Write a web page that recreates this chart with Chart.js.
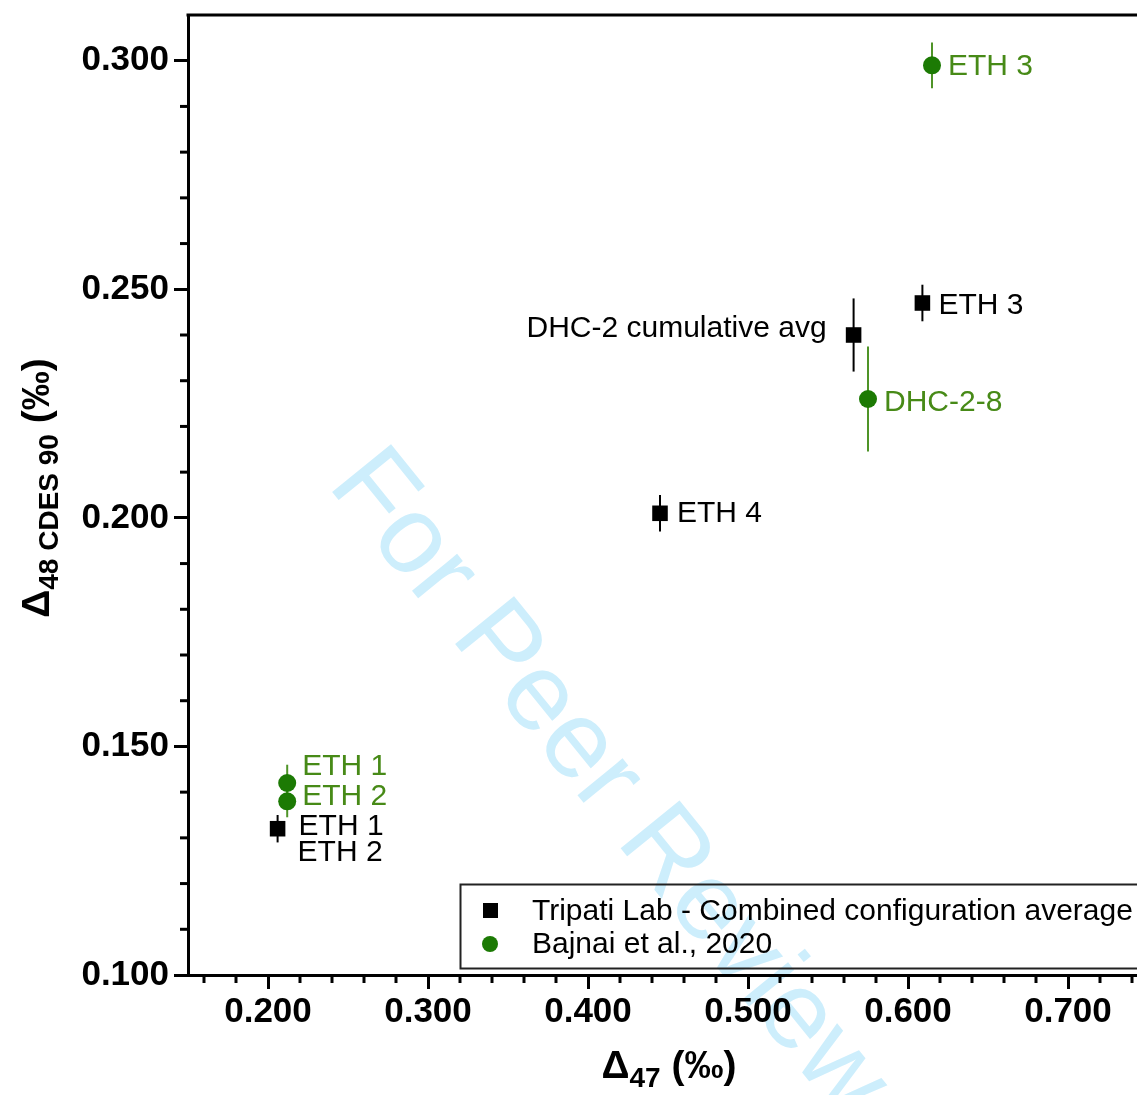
<!DOCTYPE html>
<html>
<head>
<meta charset="utf-8">
<script src="https://cdn.jsdelivr.net/npm/chart.js@4.4.0/dist/chart.umd.min.js"></script>
<style>
  html, body { margin: 0; padding: 0; background: #fff; overflow: hidden; }
  #wrap { width: 1137px; height: 1095px; overflow: hidden; }
  canvas { display: block; }
</style>
</head>
<body>
<div id="wrap"><canvas id="chart" width="1160" height="1095"></canvas></div>
<script>
// Tripati Lab - Combined configuration average
const tripatiX = [0.206, 0.445, 0.566, 0.609];
const tripatiY = [0.132, 0.201, 0.240, 0.247];
const tripatiErr = [0.003, 0.004, 0.008, 0.004];
const tripatiNames = ['ETH 1\nETH 2', 'ETH 4', 'DHC-2 cumulative avg', 'ETH 3'];

// Bajnai et al., 2020
const bajnaiX = [0.212, 0.212, 0.575, 0.615];
const bajnaiY = [0.142, 0.138, 0.226, 0.299];
const bajnaiErr = [0.004, 0.0035, 0.0115, 0.005];
const bajnaiNames = ['ETH 1', 'ETH 2', 'DHC-2-8', 'ETH 3'];

// axes
const xTickValues = [0.2, 0.3, 0.4, 0.5, 0.6, 0.7];
const xTickLabels = ['0.200', '0.300', '0.400', '0.500', '0.600', '0.700'];
const yTickValues = [0.1, 0.15, 0.2, 0.25, 0.3];
const yTickLabels = ['0.100', '0.150', '0.200', '0.250', '0.300'];
const xMinorTicks = [0.16, 0.18, 0.22, 0.24, 0.26, 0.28, 0.32, 0.34, 0.36, 0.38, 0.42, 0.44, 0.46, 0.48,
                     0.52, 0.54, 0.56, 0.58, 0.62, 0.64, 0.66, 0.68, 0.72, 0.74];
const yMinorTicks = [0.11, 0.12, 0.13, 0.14, 0.16, 0.17, 0.18, 0.19, 0.21, 0.22, 0.23, 0.24,
                     0.26, 0.27, 0.28, 0.29];

const FONT = '"Liberation Sans", Arial, Helvetica, sans-serif';
const GREEN_DOT = '#1c7a04';
const GREEN_TEXT = '#478a17';
const GREEN_BAR = '#4f9428';

// where each point label sits, relative to its marker (pixels)
const labelSpots = [
    [[{ dx: 21, dy: -2 }, { dx: 20, dy: 24 }], [{ dx: 17, dy: 0 }], [{ dx: -27, dy: -6, align: 'right' }], [{ dx: 16, dy: 3 }]],
    [[{ dx: 15, dy: -16 }], [{ dx: 15, dy: -5 }], [{ dx: 16, dy: 4 }], [{ dx: 16, dy: 1 }]]
];

function drawParts(ctx, parts) {
    let w = 0;
    parts.forEach(p => {
        ctx.font = `bold ${p.size}px ${FONT}`;
        p.w = ctx.measureText(p.t).width;
        w += p.w;
    });
    let x = -w / 2;
    parts.forEach(p => {
        ctx.font = `bold ${p.size}px ${FONT}`;
        ctx.fillText(p.t, x, p.dy);
        x += p.w;
    });
}

const decorPlugin = {
    id: 'decor',
    beforeDraw(chart) {
        // watermark
        const ctx = chart.ctx;
        ctx.save();
        ctx.translate(350, 466);
        ctx.rotate(0.89);
        ctx.font = `110px ${FONT}`;
        ctx.fillStyle = '#cdeefc';
        ctx.textBaseline = 'middle';
        ctx.fillText('For Peer Review', 0, 0);
        ctx.restore();
    },
    beforeDatasetsDraw(chart) {
        // vertical error bars
        const ctx = chart.ctx;
        const xs = chart.scales.x, ys = chart.scales.y;
        ctx.save();
        chart.data.datasets.forEach(ds => {
            ctx.strokeStyle = ds.errColor;
            ctx.lineWidth = 2;
            ds.data.forEach((p, i) => {
                const px = xs.getPixelForValue(p.x);
                ctx.beginPath();
                ctx.moveTo(px, ys.getPixelForValue(p.y + ds.yErr[i]));
                ctx.lineTo(px, ys.getPixelForValue(p.y - ds.yErr[i]));
                ctx.stroke();
            });
        });
        ctx.restore();
    },
    afterDatasetsDraw(chart) {
        const ctx = chart.ctx;
        const xs = chart.scales.x, ys = chart.scales.y;
        ctx.save();
        ctx.font = `30px ${FONT}`;
        ctx.textBaseline = 'middle';
        chart.data.datasets.forEach((ds, d) => {
            ctx.fillStyle = ds.labelColor;
            ds.data.forEach((p, i) => {
                const px = xs.getPixelForValue(p.x), py = ys.getPixelForValue(p.y);
                ds.names[i].split('\n').forEach((line, k) => {
                    const s = labelSpots[d][i][k];
                    ctx.textAlign = s.align || 'left';
                    ctx.fillText(line, px + s.dx, py + s.dy);
                });
            });
        });
        ctx.restore();
    },
    afterDraw(chart) {
        const ctx = chart.ctx;
        const a = chart.chartArea;
        const xs = chart.scales.x, ys = chart.scales.y;
        ctx.save();
        ctx.strokeStyle = '#000';
        ctx.lineWidth = 3;
        // top frame line
        ctx.beginPath();
        ctx.moveTo(a.left - 1.5, a.top);
        ctx.lineTo(chart.width, a.top);
        ctx.stroke();
        // minor ticks
        xMinorTicks.forEach(v => {
            const px = xs.getPixelForValue(v);
            ctx.beginPath();
            ctx.moveTo(px, a.bottom);
            ctx.lineTo(px, a.bottom + 8);
            ctx.stroke();
        });
        yMinorTicks.forEach(v => {
            const py = ys.getPixelForValue(v);
            ctx.beginPath();
            ctx.moveTo(a.left, py);
            ctx.lineTo(a.left - 8, py);
            ctx.stroke();
        });

        // legend box
        const lx = a.left + 272, ly = a.bottom - 91;
        ctx.lineWidth = 2;
        ctx.strokeStyle = '#222';
        ctx.strokeRect(lx + 0.5, ly + 0.5, 720, 84);
        ctx.font = `30px ${FONT}`;
        ctx.textBaseline = 'middle';
        ctx.textAlign = 'left';
        chart.data.datasets.forEach((ds, d) => {
            const cy = ly + 27 + d * 33;
            ctx.fillStyle = ds.backgroundColor;
            if (ds.pointStyle === 'rect') {
                ctx.fillRect(lx + 23, cy - 8, 15, 15);
            } else {
                ctx.beginPath();
                ctx.arc(lx + 30, cy, 8, 0, Math.PI * 2);
                ctx.fill();
            }
            ctx.fillStyle = '#000';
            ctx.fillText(ds.label, lx + 72, cy + 1);
        });

        // axis titles
        ctx.fillStyle = '#000';
        ctx.textAlign = 'left';
        ctx.textBaseline = 'alphabetic';
        ctx.save();
        ctx.translate(669, 1078);
        drawParts(ctx, [
            { t: 'Δ', size: 39, dy: 0 },
            { t: '47', size: 28, dy: 9 },
            { t: ' (‰)', size: 39, dy: 0 }
        ]);
        ctx.restore();
        ctx.save();
        ctx.translate(49, 488);
        ctx.rotate(-Math.PI / 2);
        drawParts(ctx, [
            { t: 'Δ', size: 39, dy: 0 },
            { t: '48 CDES 90', size: 28, dy: 9 },
            { t: ' (‰)', size: 39, dy: 0 }
        ]);
        ctx.restore();
        ctx.restore();
    }
};

const axisCommon = {
    type: 'linear',
    grid: { display: true, drawOnChartArea: false, drawTicks: true, tickLength: 14, tickWidth: 3, tickColor: '#000' },
    border: { display: true, width: 3, color: '#000' },
};

new Chart(document.getElementById('chart'), {
    type: 'scatter',
    data: {
        datasets: [{
            label: 'Tripati Lab - Combined configuration average',
            data: tripatiX.map((x, i) => ({ x: x, y: tripatiY[i] })),
            yErr: tripatiErr,
            names: tripatiNames,
            pointStyle: 'rect',
            pointRadius: 11,
            backgroundColor: '#000',
            borderColor: '#000',
            borderWidth: 0,
            errColor: '#000',
            labelColor: '#000'
        }, {
            label: 'Bajnai et al., 2020',
            data: bajnaiX.map((x, i) => ({ x: x, y: bajnaiY[i] })),
            yErr: bajnaiErr,
            names: bajnaiNames,
            pointStyle: 'circle',
            pointRadius: 9,
            backgroundColor: GREEN_DOT,
            borderColor: GREEN_DOT,
            borderWidth: 0,
            errColor: GREEN_BAR,
            labelColor: GREEN_TEXT
        }]
    },
    options: {
        responsive: false,
        animation: false,
        layout: { padding: { top: 15, right: 12, left: 0, bottom: 0 } },
        plugins: { legend: { display: false }, tooltip: { enabled: false } },
        scales: {
            x: {
                ...axisCommon,
                min: 0.15, max: 0.75,
                afterBuildTicks: s => { s.ticks = xTickValues.map(v => ({ value: v })); },
                afterFit: s => { s.height = 120; s.paddingLeft = 0; s.paddingRight = 0; },
                ticks: {
                    autoSkip: false, maxRotation: 0, padding: 2, color: '#000',
                    font: { family: FONT, weight: 'bold', size: 35 },
                    callback: (v, i) => xTickLabels[i]
                }
            },
            y: {
                ...axisCommon,
                min: 0.1, max: 0.31,
                afterBuildTicks: s => { s.ticks = yTickValues.map(v => ({ value: v })); },
                afterFit: s => { s.width = 188; s.paddingTop = 0; s.paddingBottom = 0; },
                ticks: {
                    autoSkip: false, padding: 5, color: '#000',
                    font: { family: FONT, weight: 'bold', size: 35 },
                    callback: (v, i) => yTickLabels[i]
                }
            }
        }
    },
    plugins: [decorPlugin]
});
</script>
</body>
</html>
